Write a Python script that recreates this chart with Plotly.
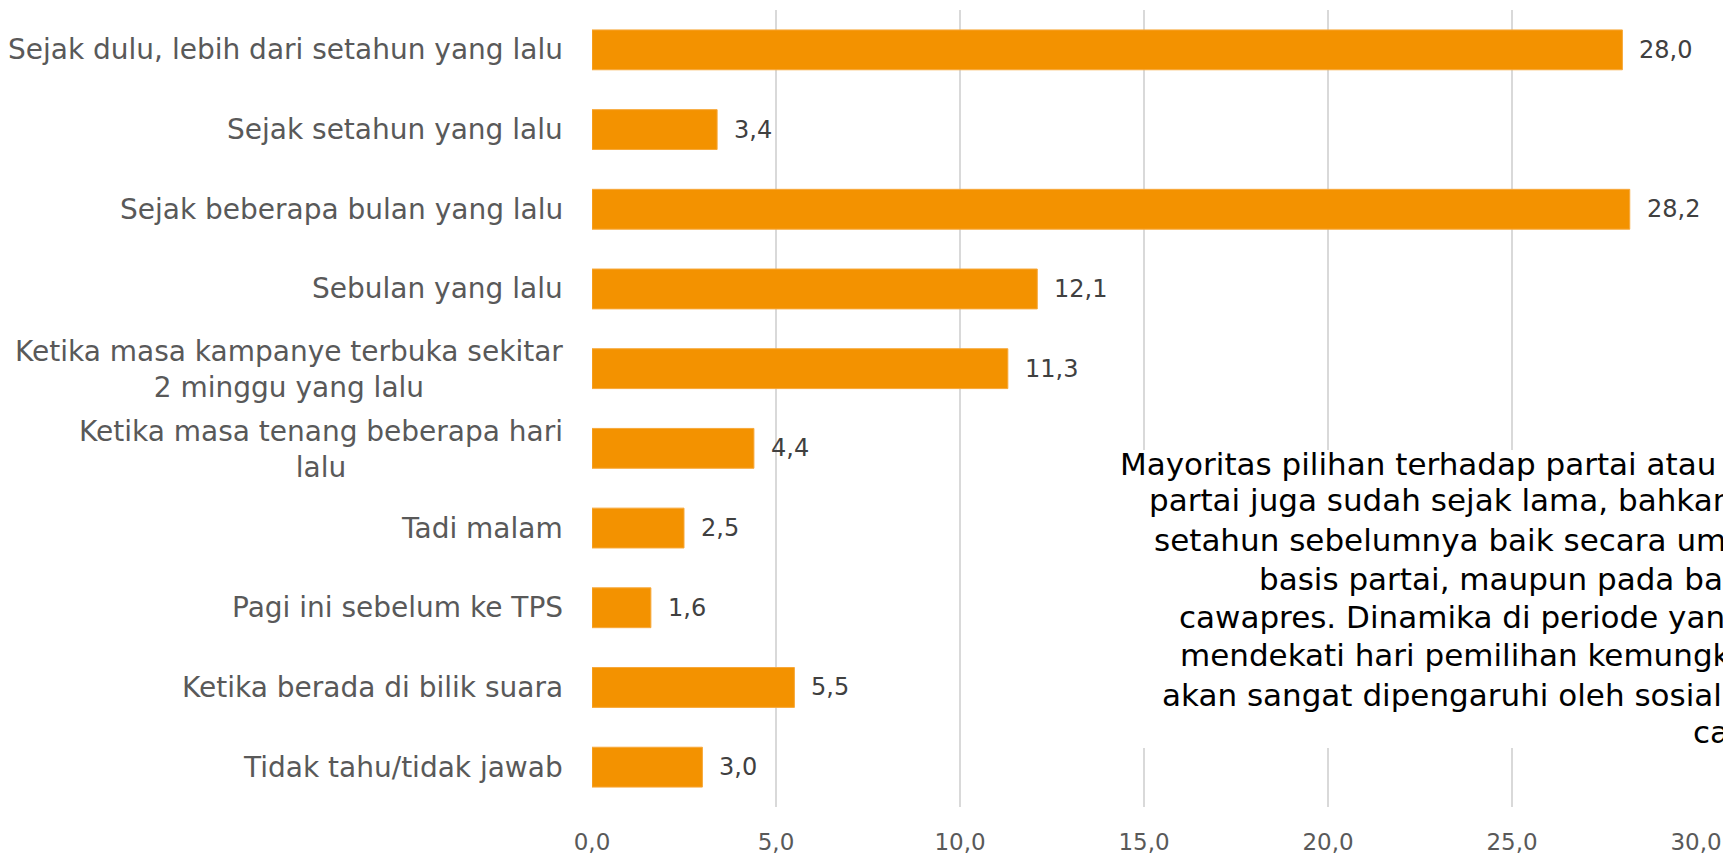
import plotly.graph_objects as go

# Kapan memutuskan pilihan partai (persen responden)
categories = [
    "Sejak dulu, lebih dari setahun yang lalu",
    "Sejak setahun yang lalu",
    "Sejak beberapa bulan yang lalu",
    "Sebulan yang lalu",
    "Ketika masa kampanye terbuka sekitar<br>2 minggu yang lalu",
    "Ketika masa tenang beberapa hari<br>lalu",
    "Tadi malam",
    "Pagi ini sebelum ke TPS",
    "Ketika berada di bilik suara",
    "Tidak tahu/tidak jawab",
]
values = [28.0, 3.4, 28.2, 12.1, 11.3, 4.4, 2.5, 1.6, 5.5, 3.0]

x_ticks = [0, 5, 10, 15, 20, 25, 30]

note_lines = [
    "Mayoritas pilihan terhadap partai atau",
    "partai juga sudah sejak lama, bahkan",
    "setahun sebelumnya baik secara umum",
    "basis partai, maupun pada basis",
    "cawapres. Dinamika di periode yang",
    "mendekati hari pemilihan kemungkinan",
    "akan sangat dipengaruhi oleh sosialisasi",
    "caleg.",
]

W, H = 1723, 854
ML, MR, MT, MB = 592, 27, 10, 47
PW, PH = W - ML - MR, H - MT - MB

FONT = "DejaVu Sans"
BAR = "#F39200"

fig = go.Figure(
    go.Bar(
        x=values,
        y=categories,
        orientation="h",
        marker=dict(color=BAR, line=dict(color="#F7A83A", width=1)),
        hoverinfo="skip",
    )
)

annotations = []
# category labels, centred multi-line text right-aligned against the axis
for cat in categories:
    annotations.append(dict(
        x=0, y=cat, xref="x", yref="y", text=cat, showarrow=False,
        xanchor="right", yanchor="middle", align="center", xshift=-27,
        yshift=-1 if "<br>" in cat else 0,
        font=dict(family=FONT, size=28, color="#595959"),
    ))
# value labels just past the end of each bar
for cat, v in zip(categories, values):
    annotations.append(dict(
        x=v, y=cat, xref="x", yref="y",
        text=f"{v:.1f}".replace(".", ","), showarrow=False,
        xanchor="left", yanchor="middle", xshift=15,
        font=dict(family=FONT, size=24, color="#404040"),
    ))

# explanatory note, one annotation per line
note_left = [1118, 1147, 1152, 1257, 1177, 1178, 1160, 1691]
note_base = [477, 513, 553, 592, 630, 668, 708, 745]
for txt, lx, by in zip(note_lines, note_left, note_base):
    annotations.append(dict(
        x=(lx - ML) / PW, y=(H - MB - by + 13) / PH, xref="paper", yref="paper",
        text=txt, showarrow=False, xanchor="left", yanchor="middle",
        font=dict(family=FONT, size=31, color="#000000"),
    ))

fig.update_layout(
    width=W, height=H,
    margin=dict(l=ML, r=MR, t=MT, b=MB, pad=0, autoexpand=False),
    paper_bgcolor="white", plot_bgcolor="white",
    bargap=0.5, showlegend=False,
    separators=",.",
    annotations=annotations,
    shapes=[dict(
        type="rect", xref="paper", yref="paper", layer="above",
        x0=(1110 - ML) / PW, x1=1.2,
        y0=(H - MB - 748) / PH, y1=(H - MB - 450) / PH,
        fillcolor="white", line=dict(width=0),
    )],
    xaxis=dict(
        range=[0, 30], tickvals=x_ticks, tickformat=".1f",
        showgrid=True, gridcolor="#D9D9D9", gridwidth=2,
        zeroline=False, showline=False, ticks="",
        tickfont=dict(family=FONT, size=23, color="#595959"),
        ticklabelstandoff=19, automargin=False, fixedrange=True,
    ),
    yaxis=dict(
        autorange="reversed", showticklabels=False, showgrid=False,
        zeroline=False, showline=False, ticks="", automargin=False,
        fixedrange=True,
    ),
)

fig.write_html("out.html", config={"displayModeBar": False})
